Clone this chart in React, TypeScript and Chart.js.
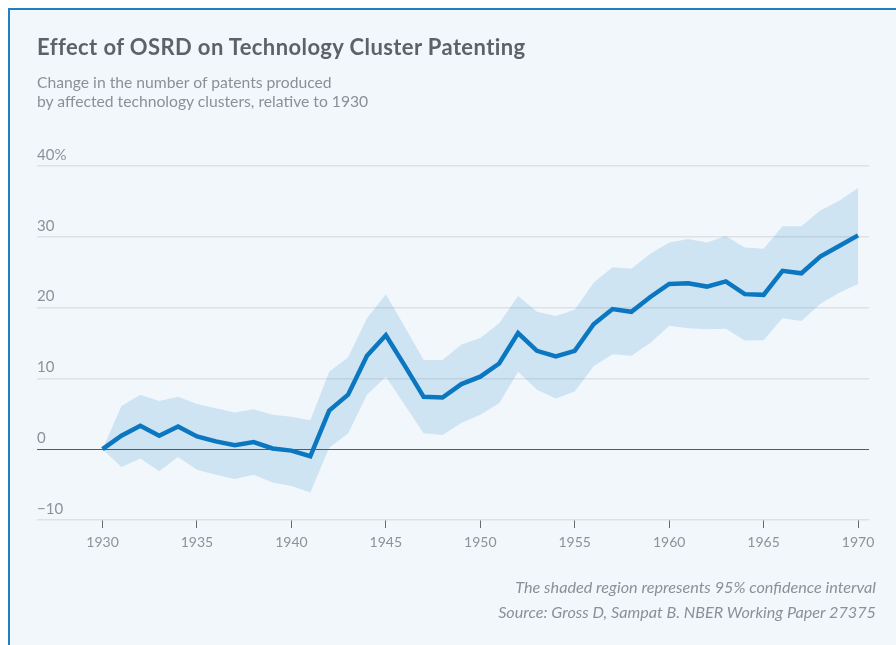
import React, { useEffect, useRef } from "react";
import { Chart, registerables } from "chart.js";

Chart.register(...registerables);

const years = [
  1930, 1931, 1932, 1933, 1934, 1935, 1936, 1937, 1938, 1939,
  1940, 1941, 1942, 1943, 1944, 1945, 1946, 1947, 1948, 1949,
  1950, 1951, 1952, 1953, 1954, 1955, 1956, 1957, 1958, 1959,
  1960, 1961, 1962, 1963, 1964, 1965, 1966, 1967, 1968, 1969, 1970,
];

const estimate = [
  0, 1.9, 3.3, 1.9, 3.2, 1.8, 1.1, 0.55, 1.0, 0.1,
  -0.2, -1.0, 5.45, 7.7, 13.2, 16.1, 11.8, 7.4, 7.3, 9.2,
  10.25, 12.1, 16.4, 13.9, 13.1, 13.9, 17.65, 19.8, 19.4, 21.5,
  23.35, 23.45, 22.97, 23.7, 21.9, 21.8, 25.2, 24.85, 27.2, 28.7, 30.2,
];

const upperCI = [
  0, 6.1, 7.7, 6.8, 7.4, 6.4, 5.8, 5.2, 5.65, 4.85,
  4.6, 4.1, 10.95, 13.0, 18.5, 21.9, 17.3, 12.6, 12.6, 14.8,
  15.7, 17.8, 21.65, 19.4, 18.8, 19.7, 23.5, 25.7, 25.5, 27.6,
  29.2, 29.7, 29.2, 30.1, 28.5, 28.3, 31.5, 31.5, 33.7, 35.1, 36.9,
];

const lowerCI = [
  0, -2.5, -1.3, -3.1, -1.1, -2.9, -3.6, -4.2, -3.6, -4.7,
  -5.2, -6.1, 0.2, 2.2, 7.7, 10.25, 6.25, 2.25, 2.0, 3.7,
  4.85, 6.5, 10.95, 8.4, 7.15, 8.15, 11.7, 13.4, 13.2, 15.0,
  17.45, 17.1, 16.95, 17.0, 15.35, 15.4, 18.5, 18.1, 20.5, 22.1, 23.35,
];

const yTicks = [-10, 0, 10, 20, 30, 40];
const xTicks = [1930, 1935, 1940, 1945, 1950, 1955, 1960, 1965, 1970];

const FONT = "Lato, 'Noto Sans', sans-serif";

export default function App() {
  const canvasRef = useRef<HTMLCanvasElement | null>(null);

  useEffect(() => {
    const canvas = canvasRef.current;
    if (!canvas) return;
    const toPts = (arr: number[]) => years.map((yr, i) => ({ x: yr, y: arr[i] }));
    const chart = new Chart(canvas, {
      type: "line",
      data: {
        datasets: [
          {
            label: "Estimate",
            data: toPts(estimate),
            borderColor: "#0a77c0",
            borderWidth: 4.5,
            pointRadius: 0,
            tension: 0,
            fill: false,
          },
          {
            label: "Upper",
            data: toPts(upperCI),
            borderWidth: 0,
            borderColor: "rgba(0,0,0,0)",
            pointRadius: 0,
            tension: 0,
            fill: "+1",
            backgroundColor: "rgba(0,119,192,0.15)",
          },
          {
            label: "Lower",
            data: toPts(lowerCI),
            borderWidth: 0,
            borderColor: "rgba(0,0,0,0)",
            pointRadius: 0,
            tension: 0,
            fill: false,
          },
        ],
      },
      options: {
        responsive: false,
        animation: false,
        layout: { padding: { left: 37, right: 27, top: 166, bottom: 85 } },
        plugins: {
          legend: { display: false },
          tooltip: { enabled: false },
          title: { display: false },
        },
        scales: {
          x: {
            type: "linear",
            min: 1926.53,
            max: 1970.58,
            afterBuildTicks: (scale: any) => {
              scale.ticks = xTicks.map((v) => ({ value: v }));
            },
            afterFit: (scale: any) => {
              scale.height = 40;
            },
            grid: {
              drawOnChartArea: false,
              drawTicks: true,
              tickLength: 8,
              color: "#666b70",
              lineWidth: 1,
            },
            border: { display: false },
            ticks: {
              padding: 6,
              color: "#8c9297",
              font: { family: FONT, size: 14 },
              callback: (v: any) => String(v),
              maxRotation: 0,
            },
          },
          y: {
            type: "linear",
            min: -10,
            max: 40,
            afterBuildTicks: (scale: any) => {
              scale.ticks = yTicks.map((v) => ({ value: v }));
            },
            afterFit: (scale: any) => {
              scale.width = 0;
            },
            grid: {
              drawTicks: false,
              color: (ctx: any) => (ctx.tick && ctx.tick.value === 0 ? "#555a5e" : "#dde2e6"),
              lineWidth: (ctx: any) => (ctx.tick && ctx.tick.value === 0 ? 1 : 1.5),
            },
            border: { display: false },
            ticks: {
              mirror: true,
              padding: 0,
              labelOffset: -11,
              color: "#8c9297",
              font: { family: FONT, size: 15 },
              callback: (v: any) => {
                const n = Number(v);
                if (n === 40) return "40%";
                if (n < 0) return "\u2212" + Math.abs(n);
                return String(n);
              },
            },
          },
        },
      },
    });
    return () => chart.destroy();
  }, []);

  return (
    <div style={{ position: "fixed", left: 0, top: 0, right: 0, bottom: 0, background: "#ffffff", overflow: "hidden" }}>
      <div
        style={{
          position: "absolute",
          left: 8,
          top: 8,
          right: 0,
          bottom: 0,
          background: "#f2f7fb",
          borderTop: "2px solid #2580c3",
          borderLeft: "2px solid #2580c3",
        }}
      />
      <canvas
        ref={canvasRef}
        width={896}
        height={645}
        style={{ position: "absolute", left: 0, top: 0, width: 896, height: 645 }}
      />
      <div
        style={{
          position: "absolute",
          left: 37,
          top: 33,
          fontFamily: FONT,
          fontWeight: 700,
          fontSize: 22,
          letterSpacing: "0.4px",
          lineHeight: "28px",
          color: "#5c6269",
          whiteSpace: "nowrap",
        }}
      >
        Effect of OSRD on Technology Cluster Patenting
      </div>
      <div
        style={{
          position: "absolute",
          left: 37,
          top: 73,
          fontFamily: FONT,
          fontSize: 15.7,
          lineHeight: "19px",
          color: "#8a9096",
          whiteSpace: "nowrap",
        }}
      >
        <div>Change in the number of patents produced</div>
        <div>by affected technology clusters, relative to 1930</div>
      </div>
      <div
        style={{
          position: "absolute",
          right: 20,
          top: 574,
          fontFamily: FONT,
          fontStyle: "italic",
          fontSize: 16.2,
          lineHeight: "25px",
          color: "#8a9096",
          textAlign: "right",
          whiteSpace: "nowrap",
        }}
      >
        <div>The shaded region represents 95% confidence interval</div>
        <div>Source: Gross D, Sampat B. NBER Working Paper 27375</div>
      </div>
    </div>
  );
}
